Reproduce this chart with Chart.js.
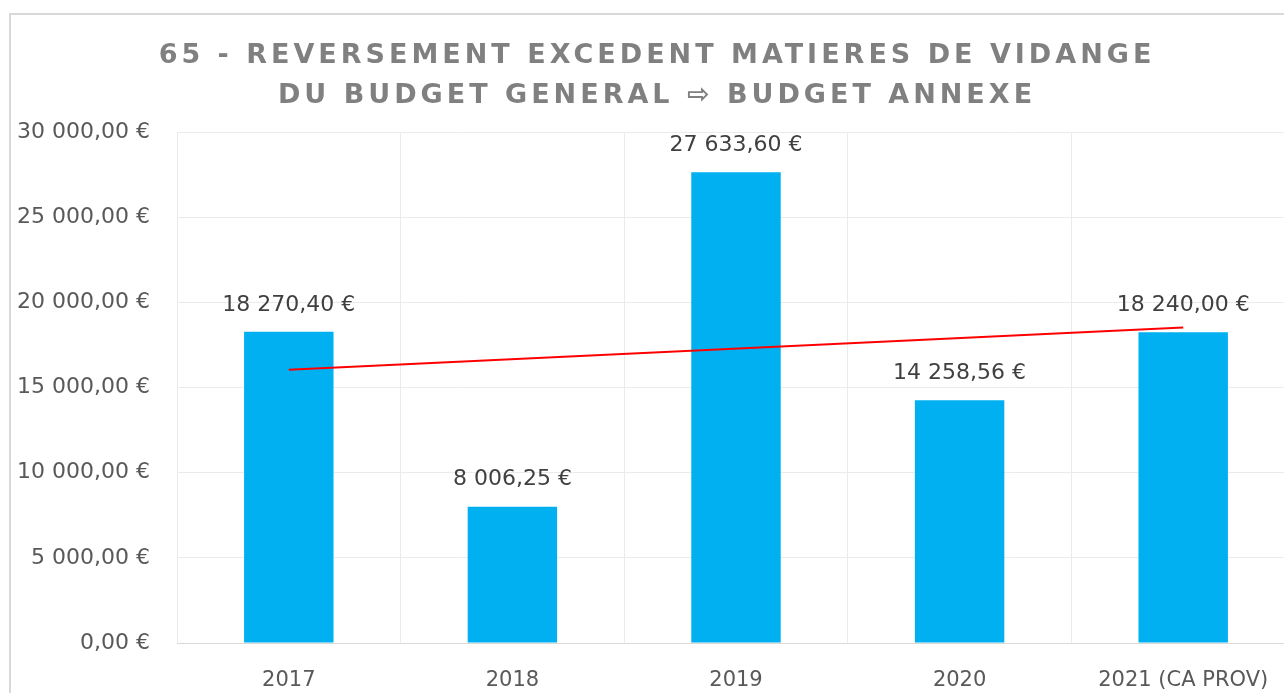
<!DOCTYPE html>
<html>
<head>
<meta charset="utf-8">
<script src="https://cdn.jsdelivr.net/npm/chart.js@4.4.0/dist/chart.umd.min.js"></script>
<style>
  body { margin: 0; overflow: hidden; background: #fff; }
  #frame {
    position: absolute; left: 9px; top: 13px; width: 1400px; height: 720px;
    border-left: 2px solid #d9d9d9; border-top: 2px solid #d9d9d9;
  }
  #title {
    position: absolute; left: 0; top: 19px; width: 1292px; text-align: center;
    font-family: "DejaVu Sans", sans-serif; font-weight: bold; font-size: 27px;
    letter-spacing: 4px; line-height: 40px; color: #808080;
  }
  #wrap { position: absolute; left: 0; top: 0; width: 1284px; height: 700px; }
</style>
</head>
<body>
<div id="frame">
  <div id="wrap"><canvas id="myChart"></canvas></div>
  <div id="title">65 - REVERSEMENT EXCEDENT MATIERES DE VIDANGE<br>DU BUDGET GENERAL ⇨ BUDGET ANNEXE</div>
</div>
<script>
// categories and values
const years = ['2017', '2018', '2019', '2020', '2021 (CA PROV)'];
const amounts = [18270.40, 8006.25, 27633.60, 14258.56, 18240.00];
// linear trend, read at both ends
const trend = [16040, null, null, null, 18520];
const yTicks = [0, 5000, 10000, 15000, 20000, 25000, 30000];

function euro(v) {
  const parts = v.toFixed(2).split('.');
  const int = parts[0].replace(/\B(?=(\d{3})+(?!\d))/g, ' ');
  return int + ',' + parts[1] + ' €';
}

// value labels above the bars
const barLabels = {
  id: 'barLabels',
  afterDatasetsDraw(chart) {
    const ctx = chart.ctx;
    const meta = chart.getDatasetMeta(1);
    ctx.save();
    ctx.font = '22px "DejaVu Sans"';
    ctx.fillStyle = '#404040';
    ctx.textAlign = 'center';
    ctx.textBaseline = 'middle';
    meta.data.forEach((bar, i) => {
      ctx.fillText(euro(amounts[i]), bar.x, bar.y - 27);
    });
    ctx.restore();
  }
};

const ctx = document.getElementById('myChart');
new Chart(ctx, {
  type: 'bar',
  data: {
    labels: years,
    datasets: [{
      type: 'line',
      label: 'Tendance',
      data: trend,
      borderColor: '#ff0000',
      borderWidth: 2,
      pointRadius: 0,
      spanGaps: true,
      order: 0
    }, {
      label: 'Montant',
      data: amounts,
      backgroundColor: '#00b0f0',
      barPercentage: 0.4,
      categoryPercentage: 1,
      order: 1
    }]
  },
  options: {
    responsive: true,
    maintainAspectRatio: false,
    animation: false,
    layout: { padding: { top: 117, right: 0, bottom: 0, left: 0 } },
    plugins: {
      legend: { display: false },
      tooltip: { enabled: false }
    },
    scales: {
      x: {
        grid: { color: '#ebebeb', offset: true, drawTicks: false },
        border: { color: '#d9d9d9' },
        ticks: {
          color: '#595959',
          font: { family: 'DejaVu Sans', size: 21 },
          padding: 25,
          maxRotation: 0
        },
        afterFit: (scale) => { scale.height = 72; }
      },
      y: {
        min: 0,
        max: 30000,
        afterBuildTicks: (scale) => { scale.ticks = yTicks.map(v => ({ value: v })); },
        grid: { color: '#ebebeb', drawTicks: false },
        border: { display: false },
        ticks: {
          color: '#595959',
          font: { family: 'DejaVu Sans', size: 22 },
          padding: 27,
          callback: (v) => euro(v)
        },
        afterFit: (scale) => { scale.width = 166; }
      }
    }
  },
  plugins: [barLabels]
});
</script>
</body>
</html>
